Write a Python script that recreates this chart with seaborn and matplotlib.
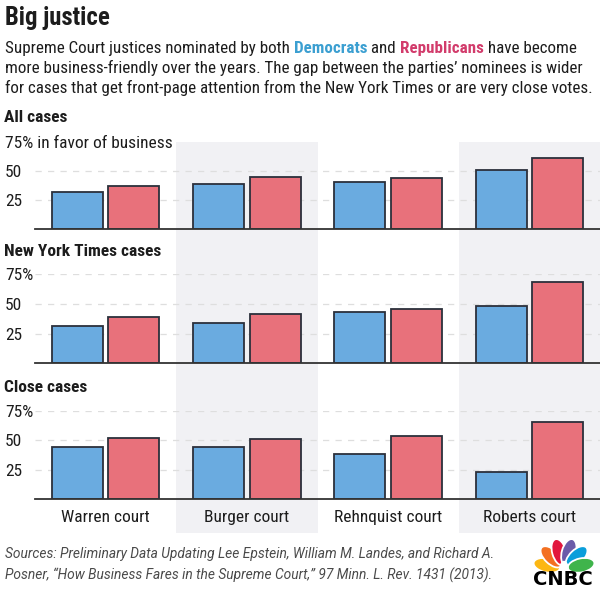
import matplotlib
matplotlib.use("Agg")
import matplotlib.pyplot as plt
import matplotlib.transforms as mtransforms
from matplotlib import font_manager as fm
from matplotlib.font_manager import FontProperties
from matplotlib.patches import Ellipse
import numpy as np
import pandas as pd
import seaborn as sns

# ---------------- data ----------------
courts = ["Warren court", "Burger court", "Rehnquist court", "Roberts court"]
parties = ["Democrats", "Republicans"]
all_dem = [32.5, 39.4, 40.5, 51.4]
all_rep = [37.3, 44.8, 44.2, 60.9]
nyt_dem = [31.4, 34.0, 43.2, 48.3]
nyt_rep = [38.8, 41.3, 45.8, 68.5]
close_dem = [44.1, 44.6, 38.4, 22.8]
close_rep = [52.0, 51.4, 53.4, 65.6]
panel_titles = ["All cases", "New York Times cases", "Close cases"]
ytick_vals = [25, 50, 75]
ytick_labels_first = ["25", "50", "75% in favor of business"]
ytick_labels_other = ["25", "50", "75%"]

title = "Big justice"
sub_l1 = [("Supreme Court justices nominated by both ", "n"), ("Democrats", "d"),
          (" and ", "n"), ("Republicans", "r"), (" have become", "n")]
sub_l2 = "more business-friendly over the years. The gap between the parties’ nominees is wider"
sub_l3 = "for cases that get front-page attention from the New York Times or are very close votes."
src_l1 = "Sources: Preliminary Data Updating Lee Epstein, William M. Landes, and Richard A."
src_l2 = "Posner, “How Business Fares in the Supreme Court,” 97 Minn. L. Rev. 1431 (2013)."

# ---------------- style ----------------
BLUE = "#6aabe0"
RED = "#e8717b"
EDGE = "#2b303b"
SHADE = "#f1f1f4"
TXT = "#1c1c1c"
DEMC = "#3b9fd1"
REPC = "#d23b6b"

sns.set_style("white")

W, H = 600, 592
fig = plt.figure(figsize=(W / 100, H / 100), dpi=100)
fig.patch.set_facecolor("white")
renderer = fig.canvas.get_renderer()
PX = mtransforms.Affine2D().scale(1 / W, -1 / H).translate(0, 1) + fig.transFigure


def pick_font():
    tl = fm.fontManager.ttflist
    names = {f.name for f in tl}
    for n in ["Liberation Sans Narrow", "DejaVu Sans Condensed", "Roboto Condensed",
              "Open Sans Condensed", "Noto Sans Condensed", "Fira Sans Condensed",
              "PT Sans Narrow", "Arial Narrow"]:
        if n in names:
            return {"family": n}
    cond = ("condensed", "semi-condensed", "extra-condensed")
    for fam in ["Noto Sans", "Open Sans", "Roboto", "DejaVu Sans", "Liberation Sans",
                "Inter", "Lato"]:
        if any(f.name == fam and str(f.stretch) in cond for f in tl):
            return {"family": fam, "stretch": "condensed"}
    return {"family": "Roboto"}


BASE = pick_font()


def fp(weight="normal", style="normal", base=None):
    b = dict(BASE if base is None else base)
    return FontProperties(weight=weight, style=style, **b)


def width_px(s, prop, size):
    t = fig.text(0, 0, s, fontproperties=prop, fontsize=size)
    w = t.get_window_extent(renderer).width
    t.remove()
    return w


def fit(s, target, prop, max_size):
    size = 10.0
    for _ in range(3):
        w = width_px(s, prop, size)
        size = size * target / w
    return min(size, max_size)


def ptext(x, y, s, prop, size, color=TXT, **kw):
    return fig.text(x, y, s, transform=PX, fontproperties=prop, fontsize=size,
                    color=color, va="baseline", ha="left", **kw)


# ---------------- background shading columns ----------------
L, R = 35, 600
ax_bg = fig.add_axes([L / W, 1 - 533 / H, (R - L) / W, (533 - 142) / H], zorder=0)
ax_bg.set_xlim(-0.5, len(courts) - 0.5)
ax_bg.set_ylim(0, 1)
for i in range(len(courts)):
    if i % 2 == 1:
        ax_bg.axvspan(i - 0.5, i + 0.5, color=SHADE, lw=0)
ax_bg.axis("off")

# ---------------- panels ----------------
tick_prop = fp()
tick_size = fit("75% in favor of business", 176, tick_prop, 12.5)
xl_size = fit("Warren court", 92, tick_prop, 12.5)
head_prop = fp("bold")
head_size = fit("New York Times cases", 158, head_prop, 12.5)

panels = [(all_dem, all_rep), (nyt_dem, nyt_rep), (close_dem, close_rep)]
tops = [142, 274.3, 411]
bases = [229.5, 363.3, 499]
head_base = [122.5, 256, 392]

for k, ((dvals, rvals), top, bot) in enumerate(zip(panels, tops, bases)):
    ax = fig.add_axes([L / W, 1 - bot / H, (R - L) / W, (bot - top) / H], zorder=2)
    ax.patch.set_alpha(0)
    df = pd.DataFrame({
        "court": courts * 2,
        "party": [parties[0]] * len(courts) + [parties[1]] * len(courts),
        "value": list(dvals) + list(rvals),
    })
    sns.barplot(data=df, x="court", y="value", hue="party", order=courts,
                hue_order=parties, palette=[BLUE, RED], saturation=1,
                width=0.8, gap=0.1, edgecolor=EDGE, linewidth=1.3,
                legend=False, errorbar=None, ax=ax)
    ax.set_xlim(-0.5, len(courts) - 0.5)
    ax.set_ylim(0, 75)
    ax.set_xlabel("")
    ax.set_ylabel("")
    for s in ["top", "right", "left"]:
        ax.spines[s].set_visible(False)
    ax.spines["bottom"].set_color("#333333")
    ax.spines["bottom"].set_linewidth(1.3)
    ax.set_axisbelow(True)
    ax.set_yticks(ytick_vals)
    ax.set_yticklabels(ytick_labels_first if k == 0 else ytick_labels_other,
                       fontproperties=tick_prop, fontsize=tick_size, color=TXT)
    ax.tick_params(axis="y", length=0, pad=30 * 0.72)
    for lab in ax.get_yticklabels():
        lab.set_horizontalalignment("left")
    ax.yaxis.grid(True, color="#dedede", linestyle=(0, (5, 5)), linewidth=0.9)
    if k == 0:
        ax.get_ygridlines()[2].set_visible(False)
    ax.set_xticks(np.arange(len(courts)) + 0.5, minor=True)
    ax.tick_params(axis="x", which="minor", length=3, width=1, color="#333333",
                   direction="out")
    ax.tick_params(axis="x", which="major", length=0, pad=8)
    ax.set_xticks(np.arange(len(courts)))
    if k == 2:
        ax.set_xticklabels(courts, fontproperties=tick_prop, fontsize=xl_size, color=TXT)
    else:
        ax.set_xticklabels([])
    ptext(4, head_base[k], panel_titles[k], head_prop, head_size)

# ---------------- title & subtitle ----------------
title_prop = fp("bold")
ptext(5, 25, title, title_prop, fit(title, 105, title_prop, 19))

sub_prop = fp()
sub_bold = fp("bold")
sub_size = fit(sub_l3, 588, sub_prop, 13.5)
x = 5
for seg, kind in sub_l1:
    prop = sub_prop if kind == "n" else sub_bold
    col = {"n": TXT, "d": DEMC, "r": REPC}[kind]
    ptext(x, 53, seg, prop, sub_size, color=col)
    x += width_px(seg + "|", prop, sub_size) - width_px("|", prop, sub_size)
ptext(5, 73, sub_l2, sub_prop, sub_size)
ptext(5, 93, sub_l3, sub_prop, sub_size)

# ---------------- sources ----------------
src_prop = FontProperties(family="Roboto", style="italic")
src_size = fit(src_l2, 487, src_prop, 10.5)
ptext(5, 558, src_l1, src_prop, src_size, color="#4a4a4a")
ptext(5, 580, src_l2, src_prop, src_size, color="#4a4a4a")

# ---------------- CNBC logo ----------------
lx0, lx1, ly0, ly1 = 526, 600, 530, 588
ax_logo = fig.add_axes([lx0 / W, 1 - ly1 / H, (lx1 - lx0) / W, (ly1 - ly0) / H], zorder=3)
ax_logo.set_xlim(lx0, lx1)
ax_logo.set_ylim(ly1, ly0)
ax_logo.axis("off")
cx, cy = 564, 569
feathers = [(168, "#fcb713"), (136, "#f37021"), (106, "#e2173d"),
            (74, "#6b5ba9"), (44, "#0a9edb"), (12, "#3fb44b")]
for ang, col in feathers:
    a = np.deg2rad(ang)
    d = 17.5
    ax_logo.add_patch(Ellipse((cx + d * np.cos(a), cy - d * np.sin(a)), 27, 14,
                              angle=-ang, facecolor=col, edgecolor="white", lw=1.3))
ax_logo.add_patch(Ellipse((cx, cy), 8, 15, facecolor="white", edgecolor="white"))
logo_prop = FontProperties(family="DejaVu Sans", weight="heavy")
logo_size = fit("CNBC", 64, logo_prop, 14)
ptext(533, 585, "CNBC", logo_prop, logo_size, color="black")

fig.savefig("out.png", dpi=100)
